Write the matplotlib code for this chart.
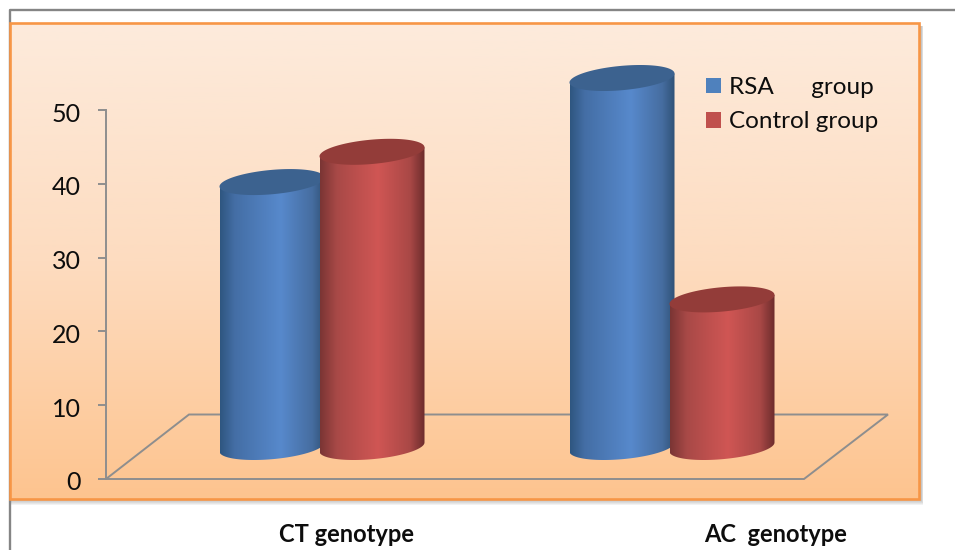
import numpy as np
import matplotlib
matplotlib.use('Agg')
from matplotlib import pyplot as plt
from matplotlib.colors import LinearSegmentedColormap
from matplotlib.patches import Patch, Polygon, Rectangle
from matplotlib.transforms import ScaledTranslation

plt.rcParams['font.family'] = ['Lato', 'DejaVu Sans']

categories = ['CT genotype', 'AC  genotype']
series_names = ['RSA      group', 'Control group']
rsa_values = [35.9, 50]
control_values = [40, 20]
y_ticks = [0, 10, 20, 30, 40, 50]

W, H = 955, 550
PX_X = 350.0   # pixels per category
PX_Y = 7.38    # pixels per value unit
X0_PX, Y0_PX = 322, 479


# pixel -> data helpers, for the frame and the decoration only
def dx(px):
    return (px - X0_PX) / PX_X


def dy(py):
    return (Y0_PX - py) / PX_Y


fig = plt.figure(figsize=(W / 100, H / 100), dpi=100)
ax = fig.add_axes([0, 0, 1, 1])
ax.set_axisbelow(False)

# outer gray frame, open on the right and the bottom
ax.plot([dx(9.5), dx(9.5), dx(955)], [dy(550), dy(9.5), dy(9.5)], color='#858585', lw=1.7, zorder=1)

# soft shadow under the panel
for i in range(6):
    ax.add_patch(Rectangle((dx(11), dy(499 + 6 - i)), dx(921 + (6 - i) * 0.4) - dx(11), dy(26) - dy(499 + 6 - i),
                           fc='#505050', ec='none', alpha=0.07, zorder=1.5))

# panel with vertical gradient
panel_cmap = LinearSegmentedColormap.from_list('panel', ['#fdebdc', '#fddcc0', '#fec48f'])
ax.imshow(np.linspace(0, 1, 256).reshape(-1, 1), cmap=panel_cmap, aspect='auto', zorder=2,
          extent=(dx(10), dx(919), dy(499), dy(23)), interpolation='bilinear')
ax.add_patch(Rectangle((dx(10), dy(499)), dx(919) - dx(10), dy(23) - dy(499), fc='none', ec='#f79646', lw=1.9, zorder=3))

# floor of the 3D box
floor = [(dx(106), dy(479)), (dx(804), dy(479)), (dx(888), dy(414.5)), (dx(189), dy(414.5))]
ax.add_patch(Polygon(floor, closed=True, fc='none', ec='#8e8e8e', lw=1.4, zorder=4))

BAR_W = 0.30
BAR_OFFSET = 50 / PX_X
BASE = 32 / PX_Y          # floor centre above the zero line
RISE = 12.2 / PX_Y
SKEW = 4.5 / PX_Y

blue_cmap = LinearSegmentedColormap.from_list('blue', [(0, '#2f5680'), (0.14, '#446ea5'), (0.58, '#5789cc'), (0.88, '#466da0'), (1, '#2f5277')])
red_cmap = LinearSegmentedColormap.from_list('red', [(0, '#7a3534'), (0.16, '#a84947'), (0.55, '#d05654'), (0.86, '#a94846'), (1, '#6c2c2c')])


def cylinder(xc, value, cmap, top_color, z):
    half = BAR_W / 2
    t = np.linspace(np.pi, 2 * np.pi, 80)
    # lower arc of the base, then straight up to the top rim
    xs = xc + half * np.cos(t)
    ys = BASE + SKEW * np.cos(t) + RISE * np.sin(t)
    top = BASE + value
    outline = list(zip(xs, ys)) + [(xc + half, top + SKEW), (xc - half, top - SKEW)]
    body = Polygon(outline, closed=True, fc='none', ec='none', zorder=z)
    ax.add_patch(body)
    im = ax.imshow(np.linspace(0, 1, 256).reshape(1, -1), cmap=cmap, aspect='auto', zorder=z,
                   extent=(xc - half, xc + half, BASE - 3 * RISE, top + 2 * RISE), interpolation='bilinear')
    im.set_clip_path(body)
    t = np.linspace(0, 2 * np.pi, 120)
    rim = np.column_stack([xc + half * np.cos(t), top + SKEW * np.cos(t) + RISE * np.sin(t)])
    ax.add_patch(Polygon(rim, closed=True, fc=top_color, ec='none', zorder=z + 0.1))


for i, (a, b) in enumerate(zip(rsa_values, control_values)):
    cylinder(i - BAR_OFFSET, a, blue_cmap, '#3c628f', 5 + i)
    cylinder(i + BAR_OFFSET, b, red_cmap, '#933c39', 5.5 + i)

ax.set_xlim(dx(0), dx(W))
ax.set_ylim(dy(H), dy(0))

# value axis
for s in ['top', 'right', 'bottom']:
    ax.spines[s].set_visible(False)
ax.spines['left'].set_position(('data', dx(105.5)))
ax.spines['left'].set_bounds(0, 50)
ax.spines['left'].set_color('#8e8e8e')
ax.spines['left'].set_linewidth(1.4)
ax.spines['left'].set_zorder(4)
ax.set_xticks([])
ax.set_yticks(y_ticks)
ax.tick_params(axis='y', length=6, width=1.4, color='#8e8e8e', pad=12, labelsize=18, labelcolor='#0d0d0d')
# labels hang a little under their ticks
shift = ScaledTranslation(0, -2 / 100, fig.dpi_scale_trans)
for lab in ax.get_yticklabels():
    lab.set_transform(lab.get_transform() + shift)

# category labels sit well off the groups in the original
ax.text(dx(346), dy(534), categories[0], ha='center', va='center', fontsize=17, fontweight='bold', color='#0d0d0d')
ax.text(dx(776), dy(534), categories[1], ha='center', va='center', fontsize=17, fontweight='bold', color='#0d0d0d')

handles = [Patch(fc='#4f81bd', ec='none'), Patch(fc='#c0504d', ec='none')]
leg = ax.legend(handles, series_names, frameon=False, fontsize=17.5, loc='upper left',
                bbox_to_anchor=(706 / W, 1 - 77 / H), borderpad=0, borderaxespad=0,
                handlelength=0.6, handleheight=0.6, handletextpad=0.36, labelspacing=0.55,
                labelcolor='#0d0d0d')
leg.set_zorder(9)

fig.savefig('out.png', dpi=100)
